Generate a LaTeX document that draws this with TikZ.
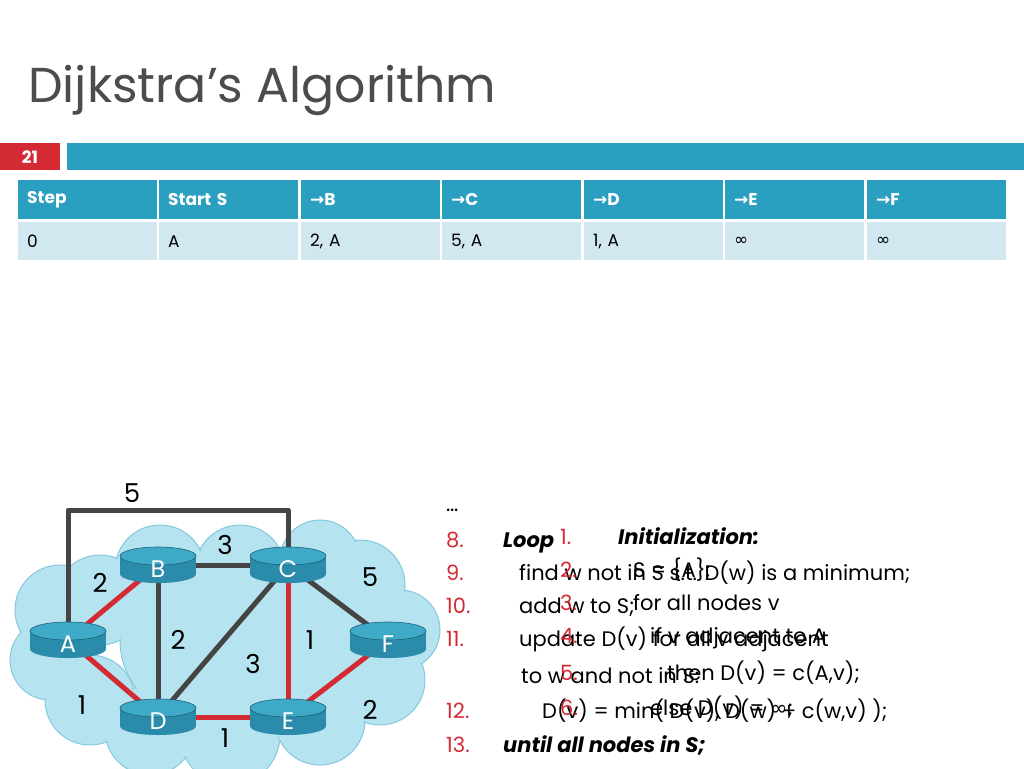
\documentclass[tikz,border=0pt]{standalone}
\usepackage{fontspec}
\setmainfont{Poppins}
\newfontfamily\symf{DejaVu Sans}
\definecolor{teal}{HTML}{2A9FBF}
\definecolor{rowc}{HTML}{D2E8F0}
\definecolor{redc}{HTML}{D42A34}
\definecolor{cloudc}{HTML}{B5E3F0}
\definecolor{cloude}{HTML}{86C8DD}
\definecolor{cyl}{HTML}{2A8BAA}
\definecolor{cyltop}{HTML}{3FA9C8}
\definecolor{edg}{HTML}{444444}
\begin{document}
\begin{tikzpicture}[x=1pt,y=-1pt,
 hd/.style={fill=teal,minimum height=39pt,text width=121pt,align=left,inner xsep=9pt,inner ysep=0pt,text=white,font=\fontsize{17}{20}\selectfont\bfseries,anchor=north west},
 rw/.style={fill=rowc,minimum height=38pt,text width=121pt,align=left,inner xsep=9pt,inner ysep=0pt,font=\fontsize{17}{20}\selectfont,anchor=north west},
 rt/.style={edg,line width=5pt},
 rd/.style={redc,line width=5pt},
 lbl/.style={font=\fontsize{26}{28}\selectfont},
 cy/.style={inner sep=0pt,text=white,font=\fontsize{24}{26}\selectfont},
 code/.style={anchor=base west,inner sep=0pt,font=\fontsize{21}{24}\selectfont},
 num/.style={code,text=redc}]
\useasboundingbox (0,0) rectangle (1024,768);
\fill[white] (0,0) rectangle (1024,768);
\node[anchor=base west,inner sep=0pt,font=\fontsize{49}{54}\selectfont,text=black!70] (title) at (28,102) {Dijkstra’s Algorithm};
\fill[redc] (0,143) rectangle (60,170);
\node[text=white,font=\fontsize{17}{20}\selectfont\bfseries] (pg) at (30,157) {21};
\fill[teal] (67,143) rectangle (1024,170);
% table
\foreach \x/\t [count=\i] in {17/Step,158/Start S,300/{{\symf→}B},441/{{\symf→}C},583/{{\symf→}D},724/{{\symf→}E},866/{{\symf→}F}}
  \node[hd] (h\i) at (\x+1,180) {\t};
\foreach \x/\t [count=\i] in {17/0,158/A,300/{2, A},441/{5, A},583/{1, A},724/{{\symf∞}},866/{{\symf∞}}}
  \node[rw] (r\i) at (\x+1,222) {\t};
% cloud
\def\cl{60/610/45,50/660/40,90/700/45,150/730/45,230/735/50,320/720/45,380/680/45,400/630/40,360/585/45,320/560/40,240/570/45,160/570/45,100/600/45,200/640/80,300/650/80}
\foreach \cx/\cy/\r in \cl
  \filldraw[fill=cloudc,draw=cloude,line width=1pt] (\cx,\cy) circle (\r);
\foreach \cx/\cy/\r in \cl
  \fill[cloudc] (\cx,\cy) circle (\r-1.5);
% node coordinates
\coordinate (A) at (68,640); \coordinate (B) at (158,565); \coordinate (C) at (288,565);
\coordinate (D) at (158,717); \coordinate (E) at (288,717); \coordinate (F) at (388,640);
\draw[rt,line join=round] (A) -- (68,510) -- (288,510) -- (C);
\draw[rt] (B) -- (C);
\draw[rt] (B) -- (D);
\draw[rt] (C) -- (F);
\draw[rt] (C) -- (D);
\draw[rd] (A) -- (B);
\draw[rd] (A) -- (D);
\draw[rd] (C) -- (E);
\draw[rd] (D) -- (E);
\draw[rd] (E) -- (F);
\foreach \n in {A,B,C,D,E,F}{
  \fill[cyl] ([shift={(-38,-9)}]\n) rectangle ([shift={(38,9)}]\n);
  \fill[cyl] ([shift={(0,9)}]\n) ellipse[x radius=38,y radius=9];
  \filldraw[fill=cyltop,draw=cyl!70!black,line width=.6pt] ([shift={(0,-9)}]\n) ellipse[x radius=38,y radius=9];
  \node[cy] (n\n) at ([shift={(0,4)}]\n) {\n};
}
\node[lbl] (l1) at (132,493) {5};
\node[lbl] (l2) at (225,545) {3};
\node[lbl] (l3) at (100,583) {2};
\node[lbl] (l4) at (370,577) {5};
\node[lbl] (l5) at (178,640) {2};
\node[lbl] (l6) at (310,640) {1};
\node[lbl] (l7) at (253,664) {3};
\node[lbl] (l8) at (82,705) {1};
\node[lbl] (l9) at (370,710) {2};
\node[lbl] (l10) at (225,738) {1};
% code text
\node[code] (dots) at (446,511) {…};
\node[num] (n8) at (446,547) {8.};
\node[num] (n9) at (446,580) {9.};
\node[num] (n10) at (446,613) {10.};
\node[num] (n11) at (446,646) {11.};
\node[num] (n12) at (446,718) {12.};
\node[num] (n13) at (446,752) {13.};
\node[code,font=\fontsize{21}{24}\selectfont\bfseries\itshape] (loop) at (503,547) {Loop};
\node[code] (t9) at (519,580) {find w not in S s.t. D(w) is a minimum;};
\node[code] (t10) at (519,613) {add w to S;};
\node[code] (t11) at (519,646) {update D(v) for all v adjacent};
\node[code] (t11b) at (521,683) {to w and not in S:};
\node[code] (t12) at (542,718) {D(v) = min( D(v), D(w) + c(w,v) );};
\node[code,font=\fontsize{21}{24}\selectfont\bfseries\itshape] (t13) at (503,752) {until all nodes in S;};
\node[num] (m1) at (560,544) {1.};
\node[num] (m2) at (560,577) {2.};
\node[num] (m3) at (560,610) {3.};
\node[num] (m4) at (560,643) {4.};
\node[num] (m5) at (560,680) {5.};
\node[num] (m6) at (560,715) {6.};
\node[code,font=\fontsize{21}{24}\selectfont\bfseries\itshape] (u1) at (618,544) {Initialization:};
\node[code] (u2) at (633,577) {S = \{A\};};
\node[code] (u3) at (633,610) {for all nodes v};
\node[code] (u4) at (650,643) {if v adjacent to A};
\node[code] (u5) at (667,680) {then D(v) = c(A,v);};
\node[code] (u6) at (650,715) {else D(v) = {\symf∞};};
\end{tikzpicture}
\end{document}
